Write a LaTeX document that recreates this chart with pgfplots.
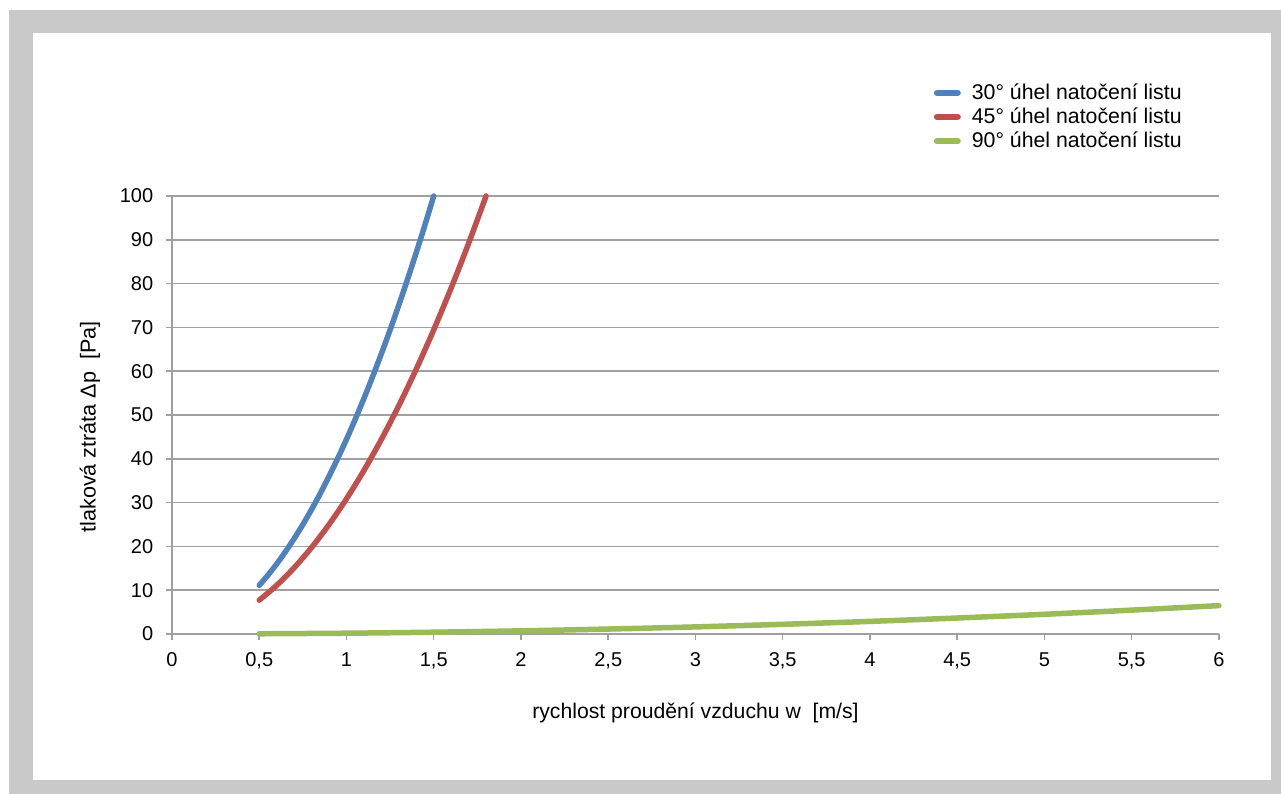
\documentclass[border=0pt]{standalone}
\usepackage{fontspec}
\setmainfont{Liberation Sans}
\usepackage{pgfplots}
\pgfplotsset{compat=1.18}

\definecolor{frame}{HTML}{C9C9C9}
\definecolor{gridc}{HTML}{A0A0A0}
\definecolor{c30}{HTML}{4F81BD}
\definecolor{c45}{HTML}{C0504D}
\definecolor{c90}{HTML}{9BBB59}

\begin{document}
\fontsize{20bp}{24bp}\selectfont
\begin{tikzpicture}
% background frame (pixel coords of the reference, y up)
\fill[white] (0bp,0bp) rectangle (1281bp,794bp);
\fill[frame] (9bp,0bp) rectangle (1281bp,784bp);
\fill[white] (33bp,14bp) rectangle (1271bp,761bp);

\begin{axis}[
  at={(172bp,160bp)}, anchor=origin,
  scale only axis,
  width=1047bp, height=438bp,
  xmin=0, xmax=6, ymin=0, ymax=100,
  axis lines=left,
  axis line style={-, gridc, line width=1.5bp},
  xtick={0,0.5,...,6},
  xticklabels={0,{0,5},1,{1,5},2,{2,5},3,{3,5},4,{4,5},5,{5,5},6},
  ytick={0,10,...,100},
  tick align=outside,
  major tick length=6bp,
  tick style={gridc, line width=1.5bp},
  ymajorgrids=true,
  grid style={gridc, line width=1.5bp},
  /pgf/number format/assume math mode=true,
  ticklabel style={font=\fontsize{20bp}{24bp}\selectfont},
  xticklabel style={yshift=-6bp},
  yticklabel style={xshift=-6bp},
  xlabel={rychlost proudění vzduchu w\ \ [m/s]},
  ylabel={tlaková ztráta Δp\ \ [Pa]},
  every axis x label/.style={at={(axis description cs:0.5,-0.18)}, anchor=center,
    font=\fontsize{21.2bp}{25bp}\selectfont},
  every axis y label/.style={at={(axis description cs:-0.0783,0.473)}, anchor=center, rotate=90,
    font=\fontsize{21.6bp}{25bp}\selectfont},
  legend style={at={(rel axis cs:0.7275,1.262)}, anchor=north west, draw=none, fill=none,
    font=\fontsize{21.3bp}{25bp}\selectfont, row sep=1.5bp, inner sep=0bp,
    /tikz/every odd column/.style={column sep=9bp}},
  legend cell align=left,
  legend image code/.code={\draw[line width=6.5bp, line cap=round] (3.5bp,0) -- (24bp,0);},
  clip=false,
]
\addplot[c30, line width=5.5bp, line cap=round, smooth] coordinates {
(0.5,11.11) (0.55,13.44) (0.6,16.0) (0.65,18.78) (0.7,21.78) (0.75,25.0) (0.8,28.44)
(0.85,32.11) (0.9,36.0) (0.95,40.11) (1.0,44.44) (1.05,49.0) (1.1,53.78) (1.15,58.78)
(1.2,64.0) (1.25,69.44) (1.3,75.11) (1.35,81.0) (1.4,87.11) (1.45,93.44) (1.5,100)};
\addlegendentry{30° úhel natočení listu}
\addplot[c45, line width=5.5bp, line cap=round, smooth] coordinates {
(0.5,7.72) (0.6,11.11) (0.7,15.12) (0.8,19.75) (0.9,25.0) (1.0,30.86) (1.1,37.34)
(1.2,44.44) (1.3,52.16) (1.4,60.49) (1.5,69.44) (1.6,79.01) (1.7,89.20) (1.8,100)};
\addlegendentry{45° úhel natočení listu}
\addplot[c90, line width=5.5bp, line cap=round, smooth] coordinates {
(0.5,0.05) (1,0.18) (1.5,0.41) (2,0.72) (2.5,1.13) (3,1.62) (3.5,2.21) (4,2.88)
(4.5,3.65) (5,4.5) (5.5,5.45) (6,6.48)};
\addlegendentry{90° úhel natočení listu}
\end{axis}
\end{tikzpicture}
\end{document}
